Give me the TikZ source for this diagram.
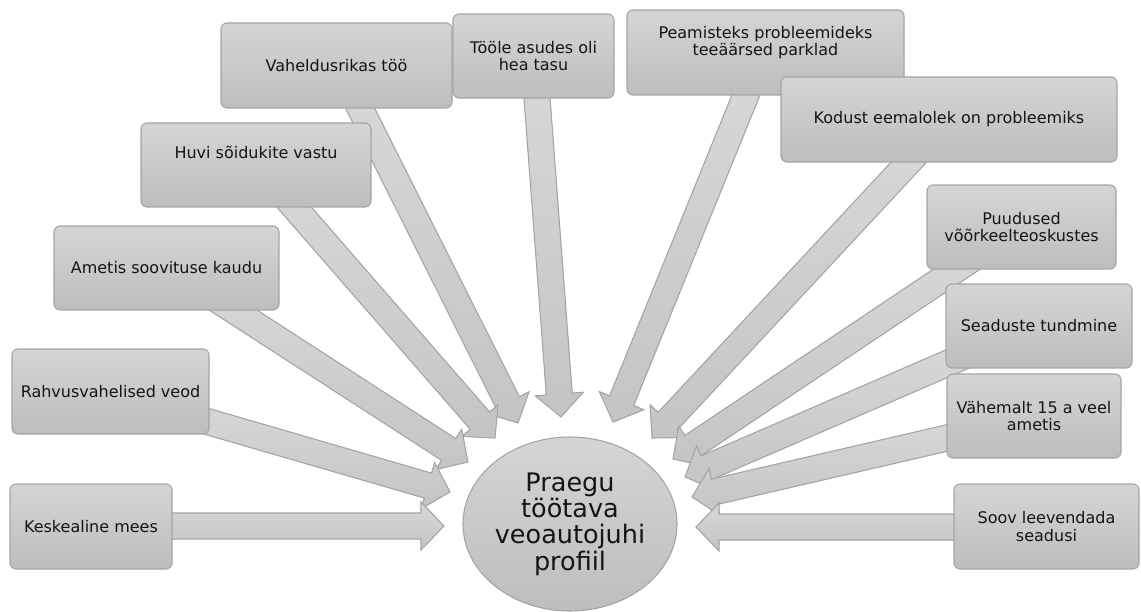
\documentclass[tikz,border=0pt]{standalone}
\usepackage{fontspec}
\setmainfont{DejaVu Sans}
\usetikzlibrary{calc,shapes.geometric}
\definecolor{boxtop}{RGB}{213,213,213}
\definecolor{boxbot}{RGB}{189,189,189}
\definecolor{boxline}{RGB}{165,165,165}
\definecolor{arrtop}{RGB}{216,216,216}
\definecolor{arrbot}{RGB}{196,196,196}
\definecolor{arrline}{RGB}{165,165,165}
\definecolor{txt}{RGB}{20,20,20}
\tikzset{
  box/.style={draw=boxline, line width=1.1pt, rounded corners=6pt, top color=boxtop, bottom color=boxbot,
    inner sep=0pt, outer sep=0pt, align=center, text=txt,
    font=\fontsize{16}{17.5}\selectfont},
  hub/.style={draw=boxline, line width=1.1pt, ellipse, top color=boxtop, bottom color=boxbot,
    inner sep=0pt, outer sep=0pt, align=center, text=txt,
    font=\fontsize{25.5}{26.3}\selectfont},
  barrow/.style={draw=arrline, line width=1.1pt, top color=arrtop, bottom color=arrbot, line join=miter}
}
\newcommand\blockarr[2]{%
  \path ($(#1)!-30pt!(#2)$) coordinate (ba-s) ($(#2)!23pt!(#1)$) coordinate (ba-h);
  \path[barrow] ($(ba-s)!13pt!90:(#2)$) -- ($(ba-h)!13pt!90:(#2)$) -- ($(ba-h)!24pt!90:(#2)$)
    -- (#2) -- ($(ba-h)!24pt!-90:(#2)$) -- ($(ba-h)!13pt!-90:(#2)$) -- ($(ba-s)!13pt!-90:(#2)$) -- cycle;
}
\begin{document}
\begin{tikzpicture}[x=1pt,y=-1pt]
\useasboundingbox (0,0) rectangle (1141,612);
% arrow tails and tips
\coordinate (tK) at (172,526);  \coordinate (hK) at (444,526);
\coordinate (tR) at (209,422);  \coordinate (hR) at (450,492);
\coordinate (tA) at (233,310);  \coordinate (hA) at (468,462);
\coordinate (tH) at (294,207);  \coordinate (hH) at (495,438);
\coordinate (tV) at (360,108);  \coordinate (hV) at (518,423);
\coordinate (tT) at (537,98);   \coordinate (hT) at (561,417);
\coordinate (tP) at (746,95);   \coordinate (hP) at (613,422);
\coordinate (tKo) at (909,162); \coordinate (hKo) at (652,438);
\coordinate (tPu) at (957,269); \coordinate (hPu) at (673,459);
\coordinate (tS) at (946,364);  \coordinate (hS) at (685,477);
\coordinate (tVa) at (947,438); \coordinate (hVa) at (692,497);
\coordinate (tSo) at (954,527); \coordinate (hSo) at (696,527);
% arrows
\blockarr{tT}{hT}
\blockarr{tV}{hV}
\blockarr{tH}{hH}
\blockarr{tA}{hA}
\blockarr{tR}{hR}
\blockarr{tK}{hK}
\blockarr{tP}{hP}
\blockarr{tKo}{hKo}
\blockarr{tPu}{hPu}
\blockarr{tS}{hS}
\blockarr{tVa}{hVa}
\blockarr{tSo}{hSo}
% boxes
\node[box, minimum width=162pt, minimum height=85pt] (K) at (91,526.5) {Keskealine mees};
\node[box, minimum width=197pt, minimum height=85pt] (R) at (110.5,391.5) {Rahvusvahelised veod};
\node[box, minimum width=225pt, minimum height=84pt] (A) at (166.5,268) {Ametis soovituse kaudu};
\node[box, minimum width=230pt, minimum height=84pt, text height=16pt, text depth=28pt] (H) at (256,165) {Huvi sõidukite vastu};
\node[box, minimum width=231pt, minimum height=85pt] (V) at (336.5,65.5) {Vaheldusrikas töö};
\node[box, minimum width=161pt, minimum height=84pt] (T) at (533.5,56) {Tööle asudes oli\\hea tasu};
\node[box, minimum width=277pt, minimum height=85pt] (P) at (765.5,52.5) {Peamisteks probleemideks\\teeäärsed parklad\\[0pt]\strut};
\node[box, minimum width=336pt, minimum height=85pt] (Ko) at (949,119.5) {Kodust eemalolek on probleemiks};
\node[box, minimum width=189pt, minimum height=84pt] (Pu) at (1021.5,227) {Puudused\\võõrkeelteoskustes};
\node[box, minimum width=186pt, minimum height=84pt] (S) at (1039,326) {Seaduste tundmine};
\node[box, minimum width=174pt, minimum height=84pt] (Va) at (1034,416) {Vähemalt 15 a veel\\ametis};
\node[box, minimum width=185pt, minimum height=85pt] (So) at (1046.5,526.5) {Soov leevendada\\seadusi};
% hub
\node[hub, minimum width=214pt, minimum height=174pt] (C) at (570,524) {Praegu\\töötava\\veoautojuhi\\profiil};
\end{tikzpicture}
\end{document}
